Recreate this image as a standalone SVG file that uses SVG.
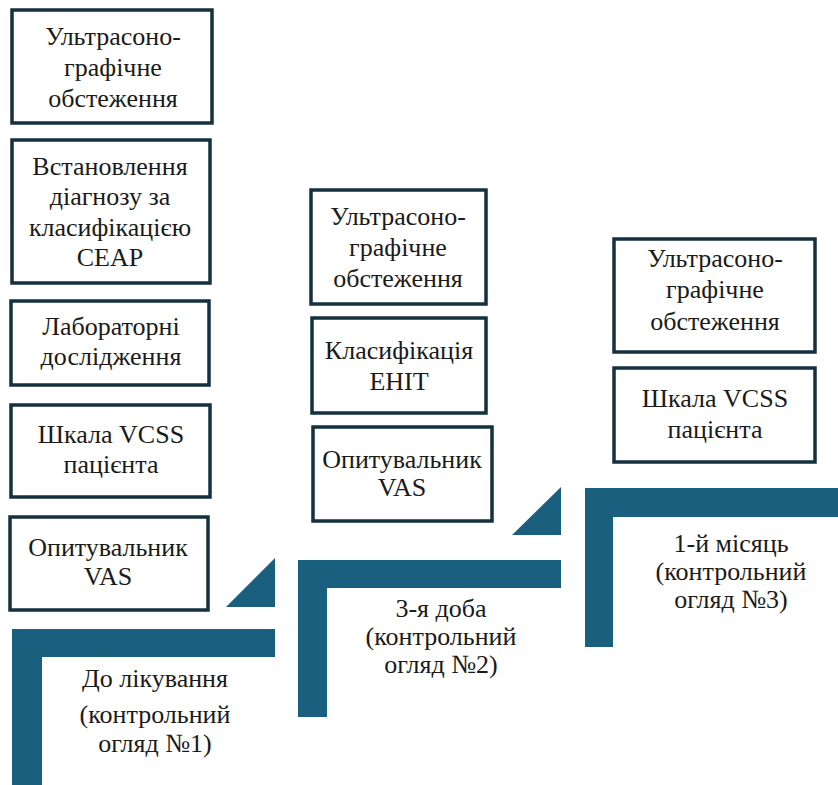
<svg xmlns="http://www.w3.org/2000/svg" width="838" height="785" viewBox="0 0 838 785">
<style>
.box{fill:#fff;stroke:#15303f;stroke-width:3.5}
.t{font-family:"Liberation Serif","Times New Roman",serif;font-size:26px;fill:#1a1a1a;text-anchor:middle}
.step{fill:#1b5f7f}
</style>
<rect width="838" height="785" fill="#fff"/>
<g id="connectors">
<polygon class="step" points="226,607 275,607 275,558"/>
<polygon class="step" points="512,535 561,535 561,487"/>
</g>
<g id="step1">
<polygon class="step" points="12,629 275,629 275,657 42,657 42,785 12,785"/>
<text class="t" x="155" y="687">До лікування</text>
<text class="t" x="155" y="723">(контрольний</text>
<text class="t" x="155" y="752">огляд №1)</text>
</g>
<g id="step2">
<polygon class="step" points="298,560 561,560 561,588 327,588 327,717 298,717"/>
<text class="t" x="441" y="617">3-я доба</text>
<text class="t" x="441" y="645">(контрольний</text>
<text class="t" x="441" y="673">огляд №2)</text>
</g>
<g id="step3">
<polygon class="step" points="585,488 838,488 838,517 613,517 613,647 585,647"/>
<text class="t" x="731" y="552">1-й місяць</text>
<text class="t" x="731" y="580">(контрольний</text>
<text class="t" x="731" y="608">огляд №3)</text>
</g>
<g id="l1">
<rect class="box" x="12" y="10" width="200" height="113"/>
<text class="t" x="113" y="45">Ультрасоно-</text>
<text class="t" x="113" y="76">графічне</text>
<text class="t" x="113" y="107">обстеження</text>
</g>
<g id="l2">
<rect class="box" x="12" y="140" width="198" height="143"/>
<text class="t" x="110" y="175">Встановлення</text>
<text class="t" x="110" y="205">діагнозу за</text>
<text class="t" x="110" y="236">класифікацією</text>
<text class="t" x="110" y="266">CEAP</text>
</g>
<g id="l3">
<rect class="box" x="11" y="301" width="198" height="84"/>
<text class="t" x="111" y="335">Лабораторні</text>
<text class="t" x="111" y="365">дослідження</text>
</g>
<g id="l4">
<rect class="box" x="11" y="405" width="199" height="92"/>
<text class="t" x="111" y="443">Шкала VCSS</text>
<text class="t" x="111" y="473">пацієнта</text>
</g>
<g id="l5">
<rect class="box" x="10" y="517" width="198" height="93"/>
<text class="t" x="108" y="556">Опитувальник</text>
<text class="t" x="108" y="585">VAS</text>
</g>
<g id="m1">
<rect class="box" x="311" y="190" width="175" height="114"/>
<text class="t" x="398" y="225">Ультрасоно-</text>
<text class="t" x="398" y="256">графічне</text>
<text class="t" x="398" y="287">обстеження</text>
</g>
<g id="m2">
<rect class="box" x="312" y="318" width="174" height="95"/>
<text class="t" x="399" y="359">Класифікація</text>
<text class="t" x="399" y="390">ЕНІТ</text>
</g>
<g id="m3">
<rect class="box" x="313" y="427" width="179" height="94"/>
<text class="t" x="402" y="468">Опитувальник</text>
<text class="t" x="402" y="496">VAS</text>
</g>
<g id="r1">
<rect class="box" x="614" y="239" width="201" height="113"/>
<text class="t" x="715" y="267">Ультрасоно-</text>
<text class="t" x="715" y="298">графічне</text>
<text class="t" x="715" y="330">обстеження</text>
</g>
<g id="r2">
<rect class="box" x="614" y="368" width="201" height="94"/>
<text class="t" x="715" y="407">Шкала VCSS</text>
<text class="t" x="715" y="438">пацієнта</text>
</g>
</svg>
